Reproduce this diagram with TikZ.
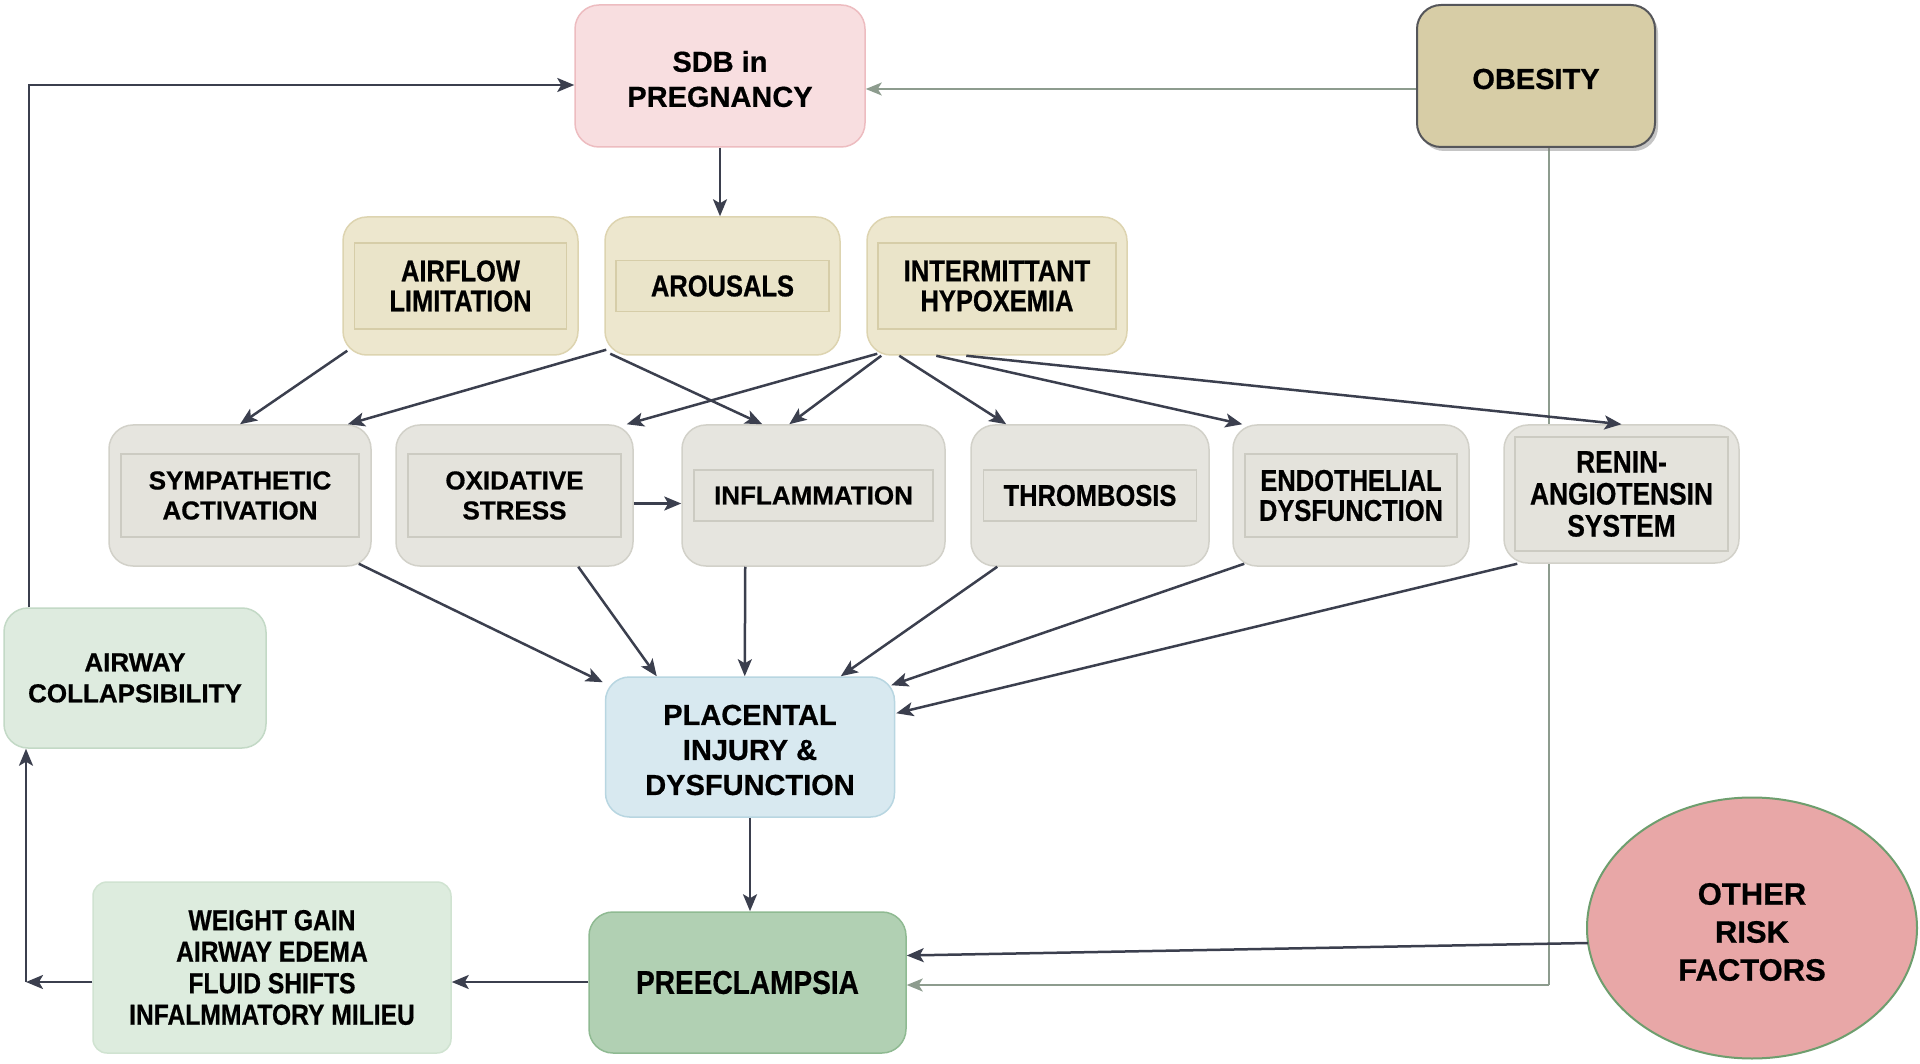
\documentclass[tikz,border=0pt]{standalone}
\usepackage{fontspec}
\setmainfont{Liberation Sans}[BoldFeatures={FakeBold=0.6}]
\newfontfamily\nf[FakeStretch=0.85,BoldFeatures={FakeBold=0.6}]{Liberation Sans}
\usetikzlibrary{arrows.meta,shapes.geometric,shadows,backgrounds}
\definecolor{sdbfill}{HTML}{F8DEE0}
\definecolor{sdbdraw}{HTML}{EDBCC0}
\definecolor{obfill}{HTML}{D7CDA6}
\definecolor{obdraw}{HTML}{55565A}
\definecolor{tanfill}{HTML}{EDE7CE}
\definecolor{tandraw}{HTML}{DDD4B0}
\definecolor{taninfill}{HTML}{EAE4C9}
\definecolor{tanindraw}{HTML}{D6CDA8}
\definecolor{greyfill}{HTML}{E6E5DF}
\definecolor{greydraw}{HTML}{D2D1C9}
\definecolor{greyinfill}{HTML}{E4E3DC}
\definecolor{greyindraw}{HTML}{CCCBC2}
\definecolor{awfill}{HTML}{DEEBDF}
\definecolor{awdraw}{HTML}{C3D9C6}
\definecolor{plfill}{HTML}{D8E9F0}
\definecolor{pldraw}{HTML}{B8D6E1}
\definecolor{prefill}{HTML}{B1D0B3}
\definecolor{predraw}{HTML}{8FBA92}
\definecolor{wgfill}{HTML}{DDECDE}
\definecolor{wgdraw}{HTML}{D0E3D1}
\definecolor{orfill}{HTML}{E8A7A7}
\definecolor{ordraw}{HTML}{6E9E6E}
\definecolor{arrdark}{HTML}{3B3F4E}
\definecolor{arrgrey}{HTML}{8D9C8E}
\tikzset{
  base/.style={rounded corners=24pt, line width=1.5pt, align=center, font=\bfseries, inner sep=0pt},
  txt/.style={align=center, inner sep=0pt},
  sdbbox/.style={base, fill=sdbfill, draw=sdbdraw, minimum width=290pt, minimum height=142pt},
  obbox/.style={base, fill=obfill, draw=obdraw, line width=2pt, minimum width=238pt, minimum height=142pt, drop shadow={shadow xshift=3pt, shadow yshift=-4pt, opacity=0.45}},
  bigtxt/.style={txt, font=\bfseries\fontsize{29}{35}\selectfont},
  tanbox/.style={base, fill=tanfill, draw=tandraw, minimum height=138pt},
  taninner/.style={fill=taninfill, draw=tanindraw, line width=1.2pt, align=center, inner sep=0pt, font=\nf\bfseries\fontsize{30}{30}\selectfont},
  greybox/.style={base, fill=greyfill, draw=greydraw, minimum height=141pt},
  greyinner/.style={fill=greyinfill, draw=greyindraw, line width=1.2pt, align=center, inner sep=0pt, font=\bfseries\fontsize{26}{30}\selectfont},
  greyinnernarrow/.style={greyinner, font=\nf\bfseries\fontsize{30}{30}\selectfont},
  awbox/.style={base, fill=awfill, draw=awdraw, minimum width=262pt, minimum height=140pt, font=\bfseries\fontsize{26}{31}\selectfont},
  plbox/.style={base, fill=plfill, draw=pldraw, minimum width=289pt, minimum height=140pt},
  prebox/.style={base, fill=prefill, draw=predraw, minimum width=317pt, minimum height=141pt, font=\nf\bfseries\fontsize{33}{36}\selectfont},
  wgbox/.style={base, rounded corners=14pt, fill=wgfill, draw=wgdraw, minimum width=358pt, minimum height=171pt, font=\nf\bfseries\fontsize{29}{31.5}\selectfont},
  orbox/.style={ellipse, fill=orfill, draw=ordraw, line width=2pt, minimum width=330pt, minimum height=261pt, inner sep=0pt},
  ortxt/.style={txt, font=\bfseries\fontsize{31}{38}\selectfont},
  darrow/.style={draw=arrdark, line width=2.5pt, -{Stealth[length=17pt,width=14pt,inset=4pt]}},
  dline/.style={draw=arrdark, line width=2.5pt},
  garrow/.style={draw=arrgrey, line width=1.8pt, -{Stealth[length=16pt,width=13pt,inset=4pt]}},
  gline/.style={draw=arrgrey, line width=1.8pt},
}
\begin{document}
\begin{tikzpicture}[x=1pt,y=-1pt]
\useasboundingbox[fill=white] (0,0) rectangle (1920,1064);

% obesity line behind boxes
\coordinate (ob1) at (1549,985);
\draw[gline] (1549,147) -- (ob1);

% top
\node[sdbbox] (sdb) at (720,76) {};
\node[bigtxt] (sdbtxt) at ([shift={(0,3)}]sdb.center) {SDB in\\PREGNANCY};
\node[obbox] (obesity) at (1536,76) {};
\node[bigtxt] (obtxt) at ([shift={(0,3)}]obesity.center) {OBESITY};

% row 2
\node[tanbox, minimum width=235pt] (airflow) at (460.5,286) {};
\node[taninner, minimum width=212pt, minimum height=86pt] (airflowin) at (airflow) {AIRFLOW\\LIMITATION};
\node[tanbox, minimum width=235pt] (arousals) at (722.5,286) {};
\node[taninner, minimum width=213pt, minimum height=51pt] (arousalsin) at (arousals) {AROUSALS};
\node[tanbox, minimum width=260pt] (inter) at (997,286) {};
\node[taninner, minimum width=238pt, minimum height=86pt] (interin) at (inter) {INTERMITTANT\\HYPOXEMIA};

% row 3
\node[greybox, minimum width=262pt] (symp) at (240,495.5) {};
\node[greyinner, minimum width=238pt, minimum height=83pt] (sympin) at (symp) {SYMPATHETIC\\ACTIVATION};
\node[greybox, minimum width=237pt] (oxi) at (514.5,495.5) {};
\node[greyinner, minimum width=213pt, minimum height=83pt] (oxiin) at (oxi) {OXIDATIVE\\STRESS};
\node[greybox, minimum width=263pt] (infl) at (813.5,495.5) {};
\node[greyinner, minimum width=239pt, minimum height=51pt] (inflin) at (infl) {INFLAMMATION};
\node[greybox, minimum width=238pt] (thromb) at (1090,495.5) {};
\node[greyinnernarrow, minimum width=213pt, minimum height=51pt] (thrombin) at (thromb) {THROMBOSIS};
\node[greybox, minimum width=236pt] (endo) at (1351,495.5) {};
\node[greyinnernarrow, minimum width=212pt, minimum height=83pt] (endoin) at (endo) {ENDOTHELIAL\\DYSFUNCTION};
\node[greybox, minimum width=235pt, minimum height=138pt] (renin) at (1621.5,494) {};
\node[greyinnernarrow, minimum width=213pt, minimum height=114pt, font=\nf\bfseries\fontsize{31}{32}\selectfont] (reninin) at (renin) {RENIN-\\ANGIOTENSIN\\SYSTEM};

% lower
\node[awbox] (airway) at (135,678) {AIRWAY\\COLLAPSIBILITY};
\node[plbox] (plac) at (750,747) {};
\node[bigtxt] (plactxt) at ([shift={(0,3)}]plac.center) {PLACENTAL\\INJURY \&\\DYSFUNCTION};
\node[prebox] (pre) at (747.5,982.5) {PREECLAMPSIA};
\node[wgbox] (weight) at (272,967.5) {WEIGHT GAIN\\AIRWAY EDEMA\\FLUID SHIFTS\\INFALMMATORY MILIEU};
\node[orbox] (other) at (1752,928) {};
\node[ortxt] (othertxt) at ([shift={(0,4)}]other.center) {OTHER\\RISK\\FACTORS};

% obesity connectors
\draw[garrow] ([shift={(0,13)}]obesity.west) -- ([shift={(0,13)}]sdb.east);
\draw[garrow] (ob1) -- (ob1 -| pre.east);
\draw[darrow] ([shift={(2,15)}]other.west) -- ([shift={(0,-27)}]pre.east);

% SDB -> arousals
\draw[darrow] (sdb.south) -- (sdb.south |- arousals.north);

% feedback loops
\coordinate (lp) at (29,85);
\draw[darrow] (airway.north -| lp) -- (lp) -- (lp -| sdb.west);
\coordinate (lw) at (26,982);
\draw[darrow] (weight.west |- lw) -- (lw);
\draw[darrow] (lw) -- (lw |- airway.south);
\draw[darrow] (pre.west |- lw) -- (weight.east |- lw);
\draw[darrow] (plac.south) -- (plac.south |- pre.north);

% row 2 -> row 3
\draw[darrow] ([shift={(5,-5)}]airflow.south west) -- (symp.north);
\draw[darrow] ([shift={(2,-6)}]arousals.south west) -- ([shift={(-24,0)}]symp.north east);
\draw[darrow] ([shift={(6,-2)}]arousals.south west) -- ([shift={(81,0)}]infl.north west);
\draw[darrow] ([shift={(11,-2)}]inter.south west) -- ([shift={(-7,0)}]oxi.north east);
\draw[darrow] ([shift={(15,0)}]inter.south west) -- ([shift={(108,0)}]infl.north west);
\draw[darrow] ([shift={(33,0)}]inter.south west) -- ([shift={(36,0)}]thromb.north west);
\draw[darrow] ([shift={(70,0)}]inter.south west) -- ([shift={(10,0)}]endo.north west);
\draw[darrow] ([shift={(100,0)}]inter.south west) -- (renin.north);
\draw[darrow] ([shift={(0,8)}]oxi.east) -- ([shift={(0,8)}]infl.west);

% row 3 -> placental
\draw[darrow] ([shift={(-13,-3)}]symp.south east) -- ([shift={(-2,6)}]plac.north west);
\draw[darrow] ([shift={(183,0)}]oxi.south west) -- ([shift={(52,0)}]plac.north west);
\draw[darrow] ([shift={(64,0)}]infl.south west) -- ([shift={(140,0)}]plac.north west);
\draw[darrow] ([shift={(27,0)}]thromb.south west) -- ([shift={(236,0)}]plac.north west);
\draw[darrow] ([shift={(12,-3)}]endo.south west) -- ([shift={(-4,9)}]plac.north east);
\draw[darrow] ([shift={(14,0)}]renin.south west) -- ([shift={(1,37)}]plac.north east);
\end{tikzpicture}
\end{document}
